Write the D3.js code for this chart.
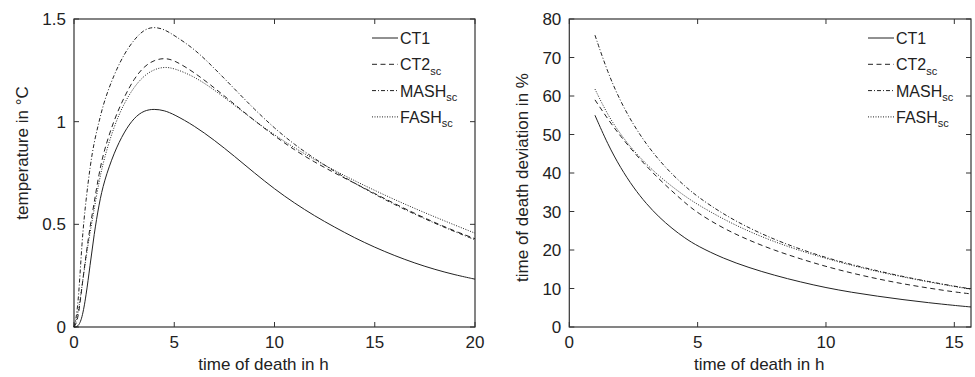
<!DOCTYPE html>
<html>
<head>
<meta charset="utf-8">
<script src="https://cdn.jsdelivr.net/npm/d3@7"></script>
<style>
  body { margin: 0; background: #fff; }
  text { font-family: "Liberation Sans", Arial, Helvetica, sans-serif; fill: #222; }
</style>
</head>
<body>
<div id="chart"></div>
<script>
var width = 975,
    height = 377;

// left panel: temperature in °C vs time of death in h
var tempTime = [0, 0.2, 0.4, 0.6, 0.8, 1, 1.25, 1.5, 2, 2.5, 3, 3.5, 4, 4.5, 5, 6, 7, 8, 9, 10, 11, 12, 13, 14, 15, 16, 17, 18, 19, 20];
var tempCT1  = [0, 0, 0.04, 0.15, 0.30, 0.45, 0.60, 0.71, 0.85, 0.95, 1.02, 1.055, 1.062, 1.055, 1.035, 0.98, 0.91, 0.832, 0.75, 0.672, 0.603, 0.541, 0.486, 0.434, 0.388, 0.347, 0.311, 0.28, 0.254, 0.233];
var tempCT2  = [0, 0.03, 0.2, 0.35, 0.49, 0.6, 0.75, 0.86, 1.01, 1.12, 1.21, 1.27, 1.30, 1.31, 1.30, 1.24, 1.165, 1.085, 1.005, 0.93, 0.862, 0.803, 0.75, 0.70, 0.65, 0.6, 0.553, 0.508, 0.467, 0.43];
var tempMASH = [0, 0.08, 0.43, 0.62, 0.78, 0.9, 1.0, 1.1, 1.23, 1.33, 1.40, 1.45, 1.462, 1.45, 1.42, 1.355, 1.26, 1.16, 1.06, 0.968, 0.888, 0.82, 0.757, 0.70, 0.646, 0.596, 0.549, 0.505, 0.464, 0.425];
var tempFASH = [0, 0.06, 0.2, 0.34, 0.46, 0.57, 0.71, 0.82, 0.98, 1.09, 1.17, 1.225, 1.255, 1.267, 1.26, 1.22, 1.155, 1.08, 1.005, 0.935, 0.872, 0.815, 0.762, 0.712, 0.665, 0.62, 0.577, 0.536, 0.496, 0.457];

// right panel: time of death deviation in % vs time of death in h
var devTime = [1, 1.5, 2, 2.5, 3, 3.5, 4, 4.5, 5, 6, 7, 8, 9, 10, 11, 12, 13, 14, 15, 15.65];
var devCT1  = [55, 47.4, 41.3, 36.2, 32, 28.5, 25.6, 23.1, 21, 17.8, 15.4, 13.4, 11.7, 10.2, 9.0, 8.0, 7.1, 6.3, 5.6, 5.2];
var devCT2  = [59, 54, 49.5, 45.5, 41.8, 38.4, 35.3, 32.3, 29.6, 25.6, 22.5, 19.9, 17.7, 15.7, 14.0, 12.5, 11.2, 10.1, 9.1, 8.6];
var devMASH = [75.8, 66, 58.5, 52.5, 47.5, 43.3, 39.7, 36.6, 33.8, 29.3, 25.7, 22.7, 20.2, 18.0, 16.2, 14.6, 13.1, 11.8, 10.6, 9.9];
var devFASH = [61.8, 55, 50, 45.8, 42.3, 39.2, 36.5, 34, 31.8, 28, 24.8, 22.1, 19.8, 17.8, 16.0, 14.4, 13.0, 11.7, 10.5, 9.8];

var seriesNames = ["CT1", "CT2", "MASH", "FASH"];
var seriesSub = ["", "sc", "sc", "sc"];
var dashes = ["none", "5,3.5", "4,2,1,2", "1,1.5"];

var svg = d3.select("#chart").append("svg").attr("width", width).attr("height", height);

function panel(opt) {
  var x = d3.scaleLinear().domain(opt.xDomain).range([opt.left, opt.right]);
  var y = d3.scaleLinear().domain(opt.yDomain).range([327, 19]);
  var g = svg.append("g");

  // frame
  g.append("rect")
    .attr("x", opt.left).attr("y", 19)
    .attr("width", opt.right - opt.left).attr("height", 308)
    .attr("fill", "none").attr("stroke", "#333").attr("stroke-width", 1.2);

  // inward ticks on all four sides
  var tl = 5;
  g.selectAll(".xt").data(opt.xTicks).enter().append("path")
    .attr("d", function(d) { return "M" + x(d) + ",327v" + (-tl) + "M" + x(d) + ",19v" + tl; })
    .attr("stroke", "#333");
  g.selectAll(".yt").data(opt.yTicks).enter().append("path")
    .attr("d", function(d) { return "M" + opt.left + "," + y(d) + "h" + tl + "M" + opt.right + "," + y(d) + "h" + (-tl); })
    .attr("stroke", "#333");

  g.selectAll(".xl").data(opt.xTicks).enter().append("text")
    .attr("x", function(d) { return x(d); })
    .attr("y", 348)
    .attr("text-anchor", "middle")
    .style("font-size", "17px")
    .text(function(d) { return d; });
  g.selectAll(".yl").data(opt.yTicks).enter().append("text")
    .attr("x", opt.left - 8)
    .attr("y", function(d) { return y(d); })
    .attr("dy", "0.36em")
    .attr("text-anchor", "end")
    .style("font-size", "17px")
    .text(function(d) { return d; });

  g.append("text")
    .attr("x", (opt.left + opt.right) / 2 - 11)
    .attr("y", 370)
    .attr("text-anchor", "middle")
    .style("font-size", "17px")
    .text("time of death in h");
  g.append("text")
    .attr("transform", "translate(" + opt.yLabelX + "," + opt.yLabelY + ") rotate(-90)")
    .attr("dy", "0.36em")
    .attr("text-anchor", "middle")
    .style("font-size", "17px")
    .text(opt.yLabel);

  var line = d3.line()
    .x(function(d) { return x(d[0]); })
    .y(function(d) { return y(d[1]); })
    .curve(d3.curveBasis);

  opt.series.forEach(function(vals, i) {
    g.append("path")
      .datum(opt.xs.map(function(t, j) { return [t, vals[j]]; }))
      .attr("d", line)
      .attr("fill", "none")
      .attr("stroke", "#222")
      .attr("stroke-width", 1)
      .attr("stroke-dasharray", dashes[i]);
  });

  // legend
  var lg = g.append("g");
  seriesNames.forEach(function(name, i) {
    var ly = 38 + i * 26.3;
    lg.append("line")
      .attr("x1", opt.right - 103).attr("x2", opt.right - 77)
      .attr("y1", ly).attr("y2", ly)
      .attr("stroke", "#222").attr("stroke-width", 1)
      .attr("stroke-dasharray", dashes[i]);
    var t = lg.append("text")
      .attr("x", opt.right - 75)
      .attr("y", ly + 6)
      .style("font-size", "16px")
      .text(name);
    if (seriesSub[i]) {
      t.append("tspan").attr("dy", 4.5).style("font-size", "11px").text(seriesSub[i]);
    }
  });
}

panel({
  left: 74, right: 475,
  xDomain: [0, 20], yDomain: [0, 1.5],
  xTicks: [0, 5, 10, 15, 20], yTicks: [0, 0.5, 1, 1.5],
  yLabel: "temperature in °C", yLabelX: 22, yLabelY: 153,
  xs: tempTime,
  series: [tempCT1, tempCT2, tempMASH, tempFASH]
});

panel({
  left: 569.3, right: 971,
  xDomain: [0, 15.65], yDomain: [0, 80],
  xTicks: [0, 5, 10, 15], yTicks: [0, 10, 20, 30, 40, 50, 60, 70, 80],
  yLabel: "time of death deviation in %", yLabelX: 522, yLabelY: 177.5,
  xs: devTime,
  series: [devCT1, devCT2, devMASH, devFASH]
});
</script>
</body>
</html>
